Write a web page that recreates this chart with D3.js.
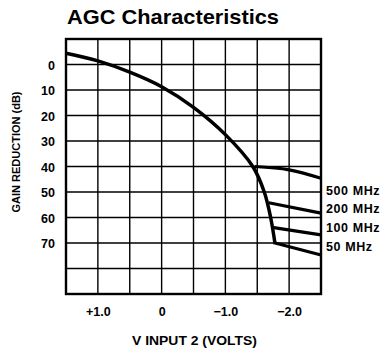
<!DOCTYPE html>
<html><head><meta charset="utf-8">
<script src="https://cdn.jsdelivr.net/npm/d3@7"></script>
<style>body{margin:0;background:#fff}svg{display:block}text{font-family:"Liberation Sans",Arial,sans-serif;fill:#000}</style>
</head><body><svg id="c" width="383" height="353"></svg>
<script>
// Data (V INPUT 2 in volts, gain reduction in dB)
const mainV  = [1.5, 1.0, 0.5, 0.0, -0.5, -1.0, -1.43, -1.61, -1.71, -1.78];
const mainDB = [-4.4, -1.4, 3.0, 8.7, 16.8, 27.5, 40.0, 50.0, 60.0, 70.5];
const branchNames = ["500 MHz", "200 MHz", "100 MHz", "50 MHz"];
const branchV  = [[-1.46, -2.0, -2.5], [-1.68, -2.5], [-1.76, -2.5], [-1.78, -2.5]];
const branchDB = [[40.0, 41.3, 44.6], [54.2, 58.3], [64.0, 66.8], [70.0, 74.7]];
const xTicks = [1.0, 0.0, -1.0, -2.0];
const xTickLabels = ["+1.0", "0", "\u22121.0", "\u22122.0"];
const yTicks = [0, 10, 20, 30, 40, 50, 60, 70];
const xGrid = [1.5, 1.0, 0.5, 0.0, -0.5, -1.0, -1.5, -2.0, -2.5];
const yGrid = [-10, 0, 10, 20, 30, 40, 50, 60, 70, 80, 90];
const labelDB = [49.5, 56.5, 64, 71.5];

const svg = d3.select("#c");
const L = 66, R = 321, T = 39, B = 294;
const x = d3.scaleLinear().domain([1.5, -2.5]).range([L, R]);
const y = d3.scaleLinear().domain([-10, 90]).range([T, B]);

// grid
svg.append("g").selectAll("line").data(xGrid).join("line")
  .attr("x1", d => x(d)).attr("x2", d => x(d)).attr("y1", T).attr("y2", B)
  .attr("stroke", "#000").attr("stroke-width", 1.4);
svg.append("g").selectAll("line").data(yGrid).join("line")
  .attr("y1", d => y(d)).attr("y2", d => y(d)).attr("x1", L).attr("x2", R)
  .attr("stroke", "#000").attr("stroke-width", 1.4);
svg.append("rect").attr("x", L).attr("y", T).attr("width", R - L).attr("height", B - T)
  .attr("fill", "none").attr("stroke", "#000").attr("stroke-width", 2.4);

// axes (labels only)
const xAxis = d3.axisBottom(x).tickValues(xTicks).tickFormat((d, i) => xTickLabels[i]).tickSize(0).tickPadding(0);
const gx = svg.append("g").attr("transform", `translate(0,${B + 22})`).call(xAxis);
gx.select(".domain").remove();
gx.selectAll("text").attr("dy", 0).attr("font-size", 12.5).attr("font-weight", "bold").attr("font-family", "Liberation Sans, Arial, sans-serif");

const yAxis = d3.axisLeft(y).tickValues(yTicks).tickSize(0).tickPadding(0);
const gy = svg.append("g").attr("transform", `translate(${L - 11},0)`).call(yAxis);
gy.select(".domain").remove();
gy.selectAll("text").attr("dy", "0.36em").attr("font-size", 12.5).attr("font-weight", "bold").attr("font-family", "Liberation Sans, Arial, sans-serif");

// curves
const mainPts = mainV.map((v, i) => [v, mainDB[i]]);
svg.append("path").attr("d", d3.line().x(d => x(d[0])).y(d => y(d[1])).curve(d3.curveCatmullRom.alpha(0.5))(mainPts))
  .attr("fill", "none").attr("stroke", "#000").attr("stroke-width", 3.5).attr("stroke-linejoin", "round");
branchV.forEach((vs, k) => {
  const pts = vs.map((v, i) => [v, branchDB[k][i]]);
  svg.append("path").attr("d", d3.line().x(d => x(d[0])).y(d => y(d[1])).curve(d3.curveMonotoneX)(pts))
    .attr("fill", "none").attr("stroke", "#000").attr("stroke-width", 3.2);
});

// branch labels
svg.append("g").selectAll("text").data(branchNames).join("text")
  .attr("x", R + 5).attr("y", (d, i) => y(labelDB[i])).attr("dy", "0.36em")
  .attr("font-size", 12.5).attr("font-weight", "bold").attr("letter-spacing", 0.6).text(d => d);

// title
svg.append("text").attr("x", 67).attr("y", 24).attr("font-size", 20.5).attr("font-weight", "bold")
  .attr("textLength", 212).attr("lengthAdjust", "spacingAndGlyphs").text("AGC Characteristics");
// axis titles
svg.append("text").attr("x", 194.5).attr("y", 345).attr("text-anchor", "middle")
  .attr("font-size", 12.5).attr("font-weight", "bold")
  .attr("textLength", 125).attr("lengthAdjust", "spacingAndGlyphs").text("V INPUT 2 (VOLTS)");
svg.append("text").attr("transform", "translate(20,152) rotate(-90)").attr("text-anchor", "middle")
  .attr("font-size", 11).attr("font-weight", "bold").text("GAIN REDUCTION (dB)");
</script></body></html>
